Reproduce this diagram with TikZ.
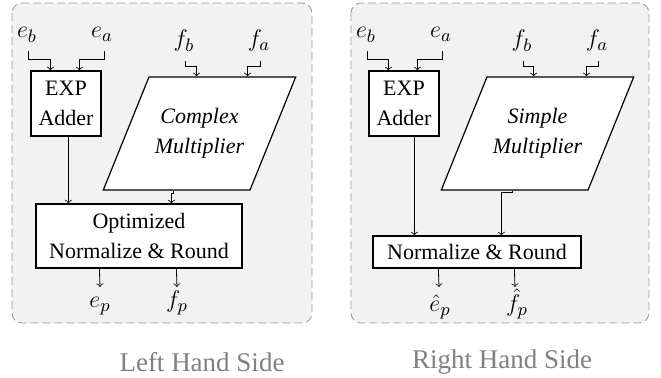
\documentclass[tikz,border=0pt]{standalone}
\usepackage{fontspec}
\setmainfont{Liberation Serif}
\usetikzlibrary{shapes.geometric,calc}

\begin{document}
\begin{tikzpicture}[x=0.5pt, y=-0.5pt,
  panel/.style={draw=gray!80, dash pattern=on 4pt off 2pt, fill=gray!10, rounded corners=5pt},
  blk/.style={draw, line width=0.6pt, fill=white, align=center, inner sep=1pt, font=\fontsize{11}{15}\selectfont},
  mul/.style={blk, trapezium, trapezium left angle=68, trapezium right angle=112,
    text width=50.5pt, inner xsep=0pt, inner ysep=15.8pt,
    font=\fontsize{11}{15}\selectfont\itshape},
  sig/.style={font=\fontsize{13}{15}\selectfont, inner sep=1pt, anchor=base},
  sidetitle/.style={font=\fontsize{13.5}{16}\selectfont, text=gray}]
 \useasboundingbox (0,0) rectangle (661,378);

 % left hand side
 \draw[panel] (12,3) rectangle (312,323);
 \node[sig] (ebL) at (27,38) {$e_b$};
 \node[sig] (eaL) at (102,38) {$e_a$};
 \node[sig] (fbL) at (184,47) {$f_b$};
 \node[sig] (faL) at (259,47) {$f_a$};
 \node[blk, minimum width=35pt, minimum height=32.5pt] (expL) at (66,103.5) {EXP\\Adder};
 \node[mul] (mulL) at (199.5,133.5) {Complex\\Multiplier};
 \node[blk, minimum width=103pt, minimum height=32pt] (normL) at (139,236) {Optimized\\Normalize \& Round};
 \node[sig] (epL) at (100,308) {$e_p$};
 \node[sig] (fpL) at (177,308) {$f_p$};
 \node[sidetitle] (titleL) at (202,362) {Left Hand Side};

 \draw[->] ($(ebL.base)+(1,13)$) -- ++(0,8) -| ($(expL.north west)+(20,0)$);
 \draw[->] ($(eaL.base)+(2,13)$) -- ++(0,8) -| ($(expL.north west)+(49,0)$);
 \draw[->] ($(fbL.base)+(1,14)$) -- ++(0,5) -| ($(mulL.top left corner)+(48,0)$);
 \draw[->] ($(faL.base)+(1,14)$) -- ++(0,5) -| ($(mulL.top left corner)+(99,0)$);
 \draw[->] ($(expL.south west)+(38,0)$) -- ($(normL.north west)+(33,0)$);
 \draw[->] ($(mulL.bottom left corner)+(71,0)$) -- ++(0,3) -| ($(normL.north west)+(136,0)$);
 \draw[->] ($(normL.south west)+(64,0)$) -- ($(epL.base)+(0,-21)$);
 \draw[->] ($(normL.south west)+(141,0)$) -- ($(fpL.base)+(0,-21)$);

 % right hand side
 \draw[panel] (351,3) rectangle (649,323);
 \node[sig] (ebR) at (366,38) {$e_b$};
 \node[sig] (eaR) at (441,38) {$e_a$};
 \node[sig] (fbR) at (522,47) {$f_b$};
 \node[sig] (faR) at (597,47) {$f_a$};
 \node[blk, minimum width=35pt, minimum height=32.5pt] (expR) at (404,103.5) {EXP\\Adder};
 \node[mul] (mulR) at (537.5,133.5) {Simple\\Multiplier};
 \node[blk, minimum width=104pt, minimum height=16pt] (normR) at (477,252) {Normalize \& Round};
 \node[sig] (epR) at (440,312) {$\hat{e}_p$};
 \node[sig] (fpR) at (517,312) {$\hat{f}_p$};
 \node[sidetitle] (titleR) at (502,362) {Right Hand Side};

 \draw[->] ($(ebR.base)+(1,13)$) -- ++(0,8) -| ($(expR.north west)+(20,0)$);
 \draw[->] ($(eaR.base)+(1,13)$) -- ++(0,8) -| ($(expR.north west)+(49,0)$);
 \draw[->] ($(fbR.base)+(1,14)$) -- ++(0,5) -| ($(mulR.top left corner)+(47,0)$);
 \draw[->] ($(faR.base)+(1,14)$) -- ++(0,5) -| ($(mulR.top left corner)+(100,0)$);
 \draw[->] ($(expR.south west)+(46,0)$) -- ($(normR.north west)+(42,0)$);
 \draw[->] ($(mulR.bottom left corner)+(72,0)$) -- ++(0,2) -| ($(normR.north west)+(129,0)$);
 \draw[->] ($(normR.south west)+(66,0)$) -- ($(epR.base)+(-1,-25)$);
 \draw[->] ($(normR.south west)+(142,0)$) -- ($(fpR.base)+(-2,-25)$);
\end{tikzpicture}
\end{document}
